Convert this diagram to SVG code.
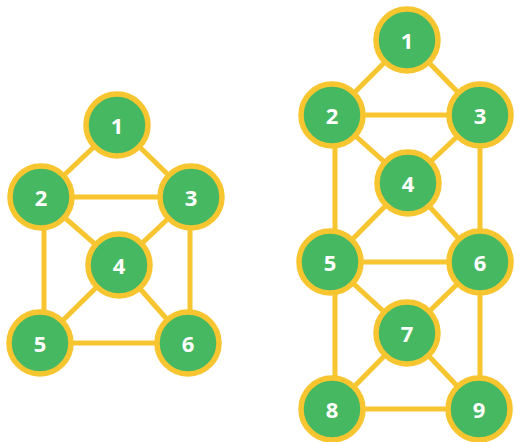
<svg xmlns="http://www.w3.org/2000/svg" width="515" height="442" viewBox="0 0 515 442">
  <style>
    .edge { stroke: #f7c52f; stroke-width: 5; fill: none; }
    .node circle { fill: #47b862; stroke: #f7c52f; stroke-width: 5.5; }
    .node text { fill: #ffffff; font-family: "Open Sans", "Liberation Sans", sans-serif; font-weight: 700; font-size: 22px; text-anchor: middle; dominant-baseline: central; }
  </style>
  <rect width="515" height="442" fill="#ffffff"/>

  <!-- connectors: left graph, then right graph -->
  <g id="connectors">
    <line class="edge" x1="117" y1="125" x2="41" y2="197"/>
    <line class="edge" x1="117" y1="125" x2="191" y2="197"/>
    <line class="edge" x1="41" y1="197" x2="191" y2="197"/>
    <line class="edge" x1="41" y1="197" x2="119" y2="265"/>
    <line class="edge" x1="191" y1="197" x2="119" y2="265"/>
    <line class="edge" x1="44" y1="197" x2="44" y2="343"/>
    <line class="edge" x1="190" y1="197" x2="190" y2="343"/>
    <line class="edge" x1="119" y1="265" x2="40" y2="343"/>
    <line class="edge" x1="119" y1="265" x2="188" y2="343"/>
    <line class="edge" x1="40" y1="343" x2="188" y2="343"/>

    <line class="edge" x1="407" y1="40" x2="332" y2="115"/>
    <line class="edge" x1="407" y1="40" x2="480" y2="115"/>
    <line class="edge" x1="332" y1="115" x2="480" y2="115"/>
    <line class="edge" x1="332" y1="115" x2="408" y2="183"/>
    <line class="edge" x1="480" y1="115" x2="408" y2="183"/>
    <line class="edge" x1="335" y1="115" x2="335" y2="262"/>
    <line class="edge" x1="480" y1="115" x2="480" y2="262"/>
    <line class="edge" x1="408" y1="183" x2="330" y2="262"/>
    <line class="edge" x1="408" y1="183" x2="480" y2="262"/>
    <line class="edge" x1="330" y1="262" x2="480" y2="262"/>
    <line class="edge" x1="330" y1="262" x2="407" y2="333"/>
    <line class="edge" x1="480" y1="262" x2="407" y2="333"/>
    <line class="edge" x1="335" y1="262" x2="335" y2="409"/>
    <line class="edge" x1="480" y1="262" x2="480" y2="409"/>
    <line class="edge" x1="407" y1="333" x2="332" y2="409"/>
    <line class="edge" x1="407" y1="333" x2="479" y2="409"/>
    <line class="edge" x1="332" y1="409" x2="479" y2="409"/>
  </g>

  <!-- left graph nodes -->
  <g id="a1" class="node"><circle cx="117" cy="125" r="31"/><text x="117" y="125">1</text></g>
  <g id="a2" class="node"><circle cx="41" cy="197" r="31"/><text x="41" y="197">2</text></g>
  <g id="a3" class="node"><circle cx="191" cy="197" r="31"/><text x="191" y="197">3</text></g>
  <g id="a4" class="node"><circle cx="119" cy="265" r="31"/><text x="119" y="265">4</text></g>
  <g id="a5" class="node"><circle cx="40" cy="343" r="31"/><text x="40" y="343">5</text></g>
  <g id="a6" class="node"><circle cx="188" cy="343" r="31"/><text x="188" y="343">6</text></g>

  <!-- right graph nodes -->
  <g id="b1" class="node"><circle cx="407" cy="40" r="31"/><text x="407" y="40">1</text></g>
  <g id="b2" class="node"><circle cx="332" cy="115" r="31"/><text x="332" y="115">2</text></g>
  <g id="b3" class="node"><circle cx="480" cy="115" r="31"/><text x="480" y="115">3</text></g>
  <g id="b4" class="node"><circle cx="408" cy="183" r="31"/><text x="408" y="183">4</text></g>
  <g id="b5" class="node"><circle cx="330" cy="262" r="31"/><text x="330" y="262">5</text></g>
  <g id="b6" class="node"><circle cx="480" cy="262" r="31"/><text x="480" y="262">6</text></g>
  <g id="b7" class="node"><circle cx="407" cy="333" r="31"/><text x="407" y="333">7</text></g>
  <g id="b8" class="node"><circle cx="332" cy="409" r="31"/><text x="332" y="409">8</text></g>
  <g id="b9" class="node"><circle cx="479" cy="409" r="31"/><text x="479" y="409">9</text></g>
</svg>
